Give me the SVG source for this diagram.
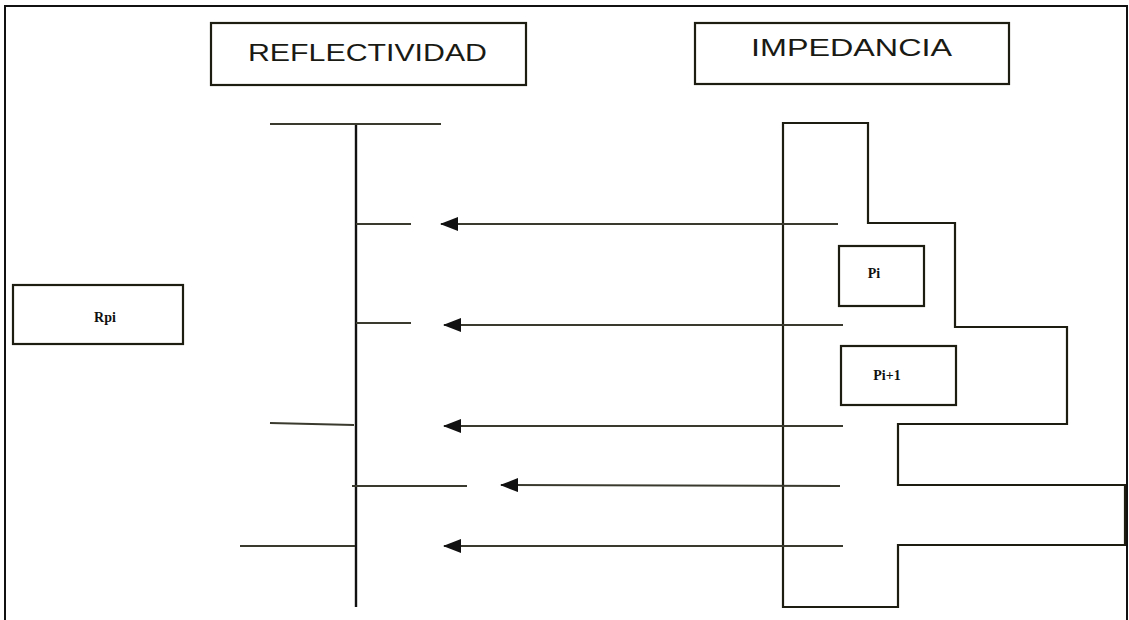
<svg xmlns="http://www.w3.org/2000/svg" width="1129" height="620" viewBox="0 0 1129 620">
<style>
.box{fill:#fff;stroke:#1e1d12;stroke-width:2.2}
.ln{stroke:#3a3a2e;stroke-width:2;fill:none}
.ax{stroke:#3a3a2e;stroke-width:2;fill:none}
.hd{font-family:"Liberation Sans",Arial,sans-serif;font-size:23px;fill:#1a1a14}
.lb{font-family:"Liberation Serif","Times New Roman",serif;font-size:14px;font-weight:bold;fill:#111;text-anchor:middle}
</style>
<defs>
<marker id="ah" markerWidth="9" markerHeight="7" refX="8.5" refY="3.5" orient="auto" markerUnits="strokeWidth">
<path d="M9,3.5 L0,0 L0,7 Z" fill="#111"/>
</marker>
</defs>
<rect width="1129" height="620" fill="#fff"/>
<path d="M5,620 V6 H1127 V620" fill="none" stroke="#111" stroke-width="2"/>
<g id="reflectividad">
<rect class="box" x="211" y="23" width="315" height="62"/>
<text class="hd" x="248" y="61" textLength="239" lengthAdjust="spacingAndGlyphs">REFLECTIVIDAD</text>
</g>
<g id="impedancia">
<rect class="box" x="695" y="23" width="314" height="61"/>
<text class="hd" x="751" y="56" textLength="201" lengthAdjust="spacingAndGlyphs">IMPEDANCIA</text>
</g>
<g id="rpi">
<rect class="box" x="13" y="285" width="170" height="59"/>
<text class="lb" x="105" y="322">Rpi</text>
</g>
<g id="reflectivity-log">
<line class="ln" x1="356" y1="124" x2="356" y2="607" style="stroke:#111;stroke-width:2.4"/>
<line class="ln" x1="270" y1="124" x2="441" y2="124"/>
<line class="ln" x1="356" y1="224" x2="411" y2="224"/>
<line class="ln" x1="356" y1="323" x2="411" y2="323"/>
<line class="ln" x1="270" y1="423" x2="354" y2="425"/>
<line class="ln" x1="352" y1="486" x2="467" y2="486"/>
<line class="ln" x1="240" y1="546" x2="355" y2="546"/>
</g>
<g id="impedance-log">
<path class="ln" d="M783,123 H868 V223 H955 V327 H1067 V424 H898 V485 H1125 V545 H898 V607 H783 Z" style="stroke:#1e1d12;stroke-width:2.2"/>
</g>
<g id="pi">
<rect class="box" x="839" y="246" width="85" height="60"/>
<text class="lb" x="874" y="278">Pi</text>
</g>
<g id="pi1">
<rect class="box" x="841" y="346" width="115" height="59"/>
<text class="lb" x="887" y="380">Pi+1</text>
</g>
<g id="connectors">
<line class="ax" x1="838" y1="224" x2="441" y2="224" marker-end="url(#ah)"/>
<line class="ax" x1="843" y1="325" x2="444" y2="325" marker-end="url(#ah)"/>
<line class="ax" x1="843" y1="426" x2="444" y2="426" marker-end="url(#ah)"/>
<line class="ax" x1="840" y1="486" x2="501" y2="485" marker-end="url(#ah)"/>
<line class="ax" x1="843" y1="546" x2="444" y2="546" marker-end="url(#ah)"/>
</g>
</svg>
